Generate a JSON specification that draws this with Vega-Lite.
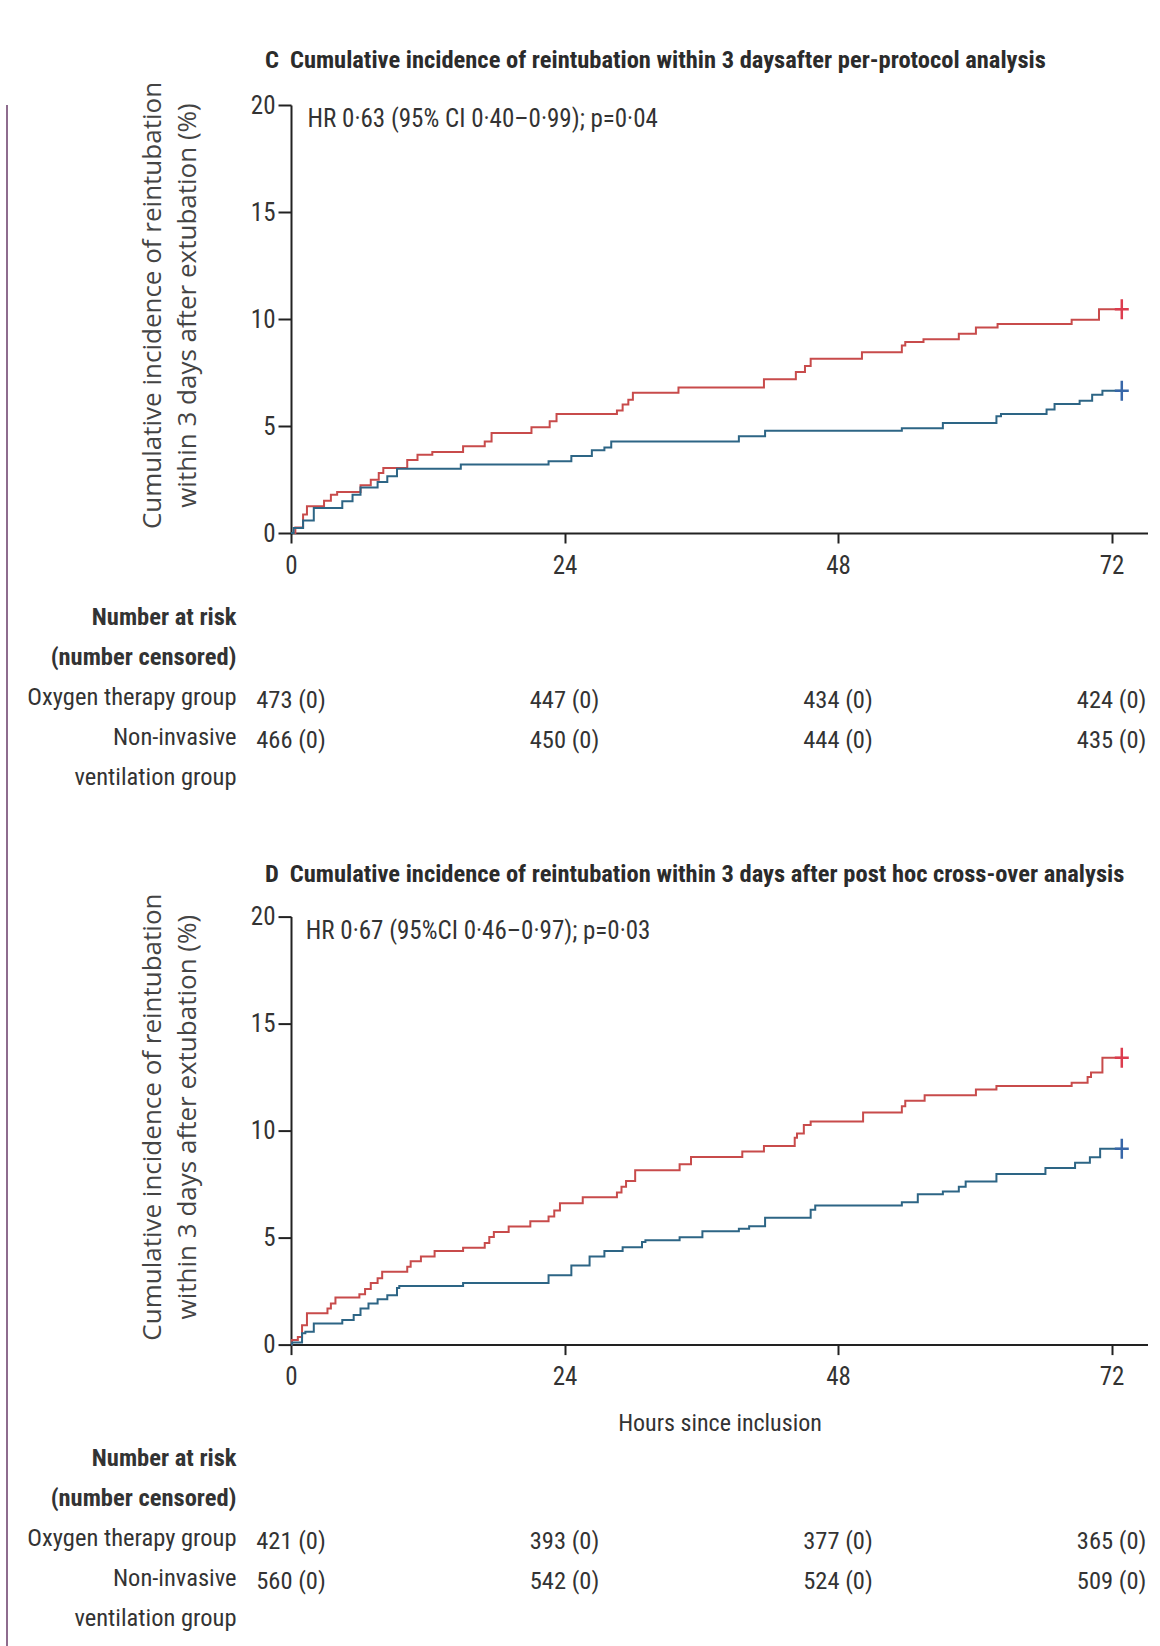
{
  "$schema": "https://vega.github.io/schema/vega-lite/v6.json",
  "padding": {"left": 6, "top": 47, "right": 0, "bottom": 0},
  "background": "white",
  "config": {
    "view": {"stroke": null},
    "font": "Roboto Condensed, DejaVu Sans Condensed, sans-serif"
  },
  "datasets": {
    "curves": [
      {"panel": "C", "group": "Oxygen therapy group", "hours": 0, "pct": 0},
      {"panel": "C", "group": "Oxygen therapy group", "hours": 0.38, "pct": 0.26},
      {"panel": "C", "group": "Oxygen therapy group", "hours": 1.06, "pct": 0.86},
      {"panel": "C", "group": "Oxygen therapy group", "hours": 1.4, "pct": 1.25},
      {"panel": "C", "group": "Oxygen therapy group", "hours": 2.9, "pct": 1.51},
      {"panel": "C", "group": "Oxygen therapy group", "hours": 3.5, "pct": 1.79},
      {"panel": "C", "group": "Oxygen therapy group", "hours": 4.05, "pct": 1.92},
      {"panel": "C", "group": "Oxygen therapy group", "hours": 6.1, "pct": 2.23},
      {"panel": "C", "group": "Oxygen therapy group", "hours": 7.0, "pct": 2.49},
      {"panel": "C", "group": "Oxygen therapy group", "hours": 7.7, "pct": 2.8},
      {"panel": "C", "group": "Oxygen therapy group", "hours": 8.1, "pct": 3.04},
      {"panel": "C", "group": "Oxygen therapy group", "hours": 10.2, "pct": 3.41},
      {"panel": "C", "group": "Oxygen therapy group", "hours": 11.1, "pct": 3.66},
      {"panel": "C", "group": "Oxygen therapy group", "hours": 12.4, "pct": 3.79},
      {"panel": "C", "group": "Oxygen therapy group", "hours": 15.1, "pct": 4.05},
      {"panel": "C", "group": "Oxygen therapy group", "hours": 17.0, "pct": 4.28},
      {"panel": "C", "group": "Oxygen therapy group", "hours": 17.6, "pct": 4.67},
      {"panel": "C", "group": "Oxygen therapy group", "hours": 21.1, "pct": 4.94},
      {"panel": "C", "group": "Oxygen therapy group", "hours": 22.7, "pct": 5.22},
      {"panel": "C", "group": "Oxygen therapy group", "hours": 23.3, "pct": 5.56},
      {"panel": "C", "group": "Oxygen therapy group", "hours": 28.6, "pct": 5.72},
      {"panel": "C", "group": "Oxygen therapy group", "hours": 29.1, "pct": 6.0},
      {"panel": "C", "group": "Oxygen therapy group", "hours": 29.6, "pct": 6.23},
      {"panel": "C", "group": "Oxygen therapy group", "hours": 30.0, "pct": 6.55},
      {"panel": "C", "group": "Oxygen therapy group", "hours": 34.0, "pct": 6.8},
      {"panel": "C", "group": "Oxygen therapy group", "hours": 41.5, "pct": 7.18},
      {"panel": "C", "group": "Oxygen therapy group", "hours": 44.3, "pct": 7.52},
      {"panel": "C", "group": "Oxygen therapy group", "hours": 45.1, "pct": 7.8},
      {"panel": "C", "group": "Oxygen therapy group", "hours": 45.6, "pct": 8.14},
      {"panel": "C", "group": "Oxygen therapy group", "hours": 50.1, "pct": 8.45},
      {"panel": "C", "group": "Oxygen therapy group", "hours": 53.6, "pct": 8.76},
      {"panel": "C", "group": "Oxygen therapy group", "hours": 53.9, "pct": 8.92},
      {"panel": "C", "group": "Oxygen therapy group", "hours": 55.5, "pct": 9.05},
      {"panel": "C", "group": "Oxygen therapy group", "hours": 58.6, "pct": 9.31},
      {"panel": "C", "group": "Oxygen therapy group", "hours": 60.1, "pct": 9.6},
      {"panel": "C", "group": "Oxygen therapy group", "hours": 62.0, "pct": 9.77},
      {"panel": "C", "group": "Oxygen therapy group", "hours": 68.5, "pct": 9.97},
      {"panel": "C", "group": "Oxygen therapy group", "hours": 70.9, "pct": 10.45},
      {"panel": "C", "group": "Oxygen therapy group", "hours": 72.9, "pct": 10.45},
      {"panel": "C", "group": "Non-invasive ventilation group", "hours": 0, "pct": 0},
      {"panel": "C", "group": "Non-invasive ventilation group", "hours": 0.23, "pct": 0.23},
      {"panel": "C", "group": "Non-invasive ventilation group", "hours": 1.06, "pct": 0.58},
      {"panel": "C", "group": "Non-invasive ventilation group", "hours": 2.0, "pct": 1.17},
      {"panel": "C", "group": "Non-invasive ventilation group", "hours": 4.5, "pct": 1.48},
      {"panel": "C", "group": "Non-invasive ventilation group", "hours": 5.4, "pct": 1.79},
      {"panel": "C", "group": "Non-invasive ventilation group", "hours": 6.1, "pct": 2.13},
      {"panel": "C", "group": "Non-invasive ventilation group", "hours": 7.6, "pct": 2.38},
      {"panel": "C", "group": "Non-invasive ventilation group", "hours": 8.45, "pct": 2.65},
      {"panel": "C", "group": "Non-invasive ventilation group", "hours": 9.3, "pct": 3.0},
      {"panel": "C", "group": "Non-invasive ventilation group", "hours": 14.9, "pct": 3.2},
      {"panel": "C", "group": "Non-invasive ventilation group", "hours": 22.6, "pct": 3.35},
      {"panel": "C", "group": "Non-invasive ventilation group", "hours": 24.6, "pct": 3.6},
      {"panel": "C", "group": "Non-invasive ventilation group", "hours": 26.4, "pct": 3.87},
      {"panel": "C", "group": "Non-invasive ventilation group", "hours": 27.5, "pct": 4.0},
      {"panel": "C", "group": "Non-invasive ventilation group", "hours": 28.1, "pct": 4.28},
      {"panel": "C", "group": "Non-invasive ventilation group", "hours": 39.3, "pct": 4.52},
      {"panel": "C", "group": "Non-invasive ventilation group", "hours": 41.6, "pct": 4.78},
      {"panel": "C", "group": "Non-invasive ventilation group", "hours": 53.6, "pct": 4.9},
      {"panel": "C", "group": "Non-invasive ventilation group", "hours": 57.2, "pct": 5.14},
      {"panel": "C", "group": "Non-invasive ventilation group", "hours": 61.9, "pct": 5.45},
      {"panel": "C", "group": "Non-invasive ventilation group", "hours": 62.3, "pct": 5.56},
      {"panel": "C", "group": "Non-invasive ventilation group", "hours": 66.3, "pct": 5.77},
      {"panel": "C", "group": "Non-invasive ventilation group", "hours": 67.0, "pct": 6.03},
      {"panel": "C", "group": "Non-invasive ventilation group", "hours": 69.2, "pct": 6.18},
      {"panel": "C", "group": "Non-invasive ventilation group", "hours": 70.3, "pct": 6.46},
      {"panel": "C", "group": "Non-invasive ventilation group", "hours": 71.2, "pct": 6.65},
      {"panel": "C", "group": "Non-invasive ventilation group", "hours": 72.9, "pct": 6.65},
      {"panel": "D", "group": "Oxygen therapy group", "hours": 0, "pct": 0},
      {"panel": "D", "group": "Oxygen therapy group", "hours": 0.08, "pct": 0.22},
      {"panel": "D", "group": "Oxygen therapy group", "hours": 0.6, "pct": 0.35},
      {"panel": "D", "group": "Oxygen therapy group", "hours": 0.97, "pct": 0.9},
      {"panel": "D", "group": "Oxygen therapy group", "hours": 1.4, "pct": 1.46},
      {"panel": "D", "group": "Oxygen therapy group", "hours": 3.2, "pct": 1.69},
      {"panel": "D", "group": "Oxygen therapy group", "hours": 3.5, "pct": 1.92},
      {"panel": "D", "group": "Oxygen therapy group", "hours": 3.9, "pct": 2.2},
      {"panel": "D", "group": "Oxygen therapy group", "hours": 6.0, "pct": 2.35},
      {"panel": "D", "group": "Oxygen therapy group", "hours": 6.5, "pct": 2.6},
      {"panel": "D", "group": "Oxygen therapy group", "hours": 7.0, "pct": 2.88},
      {"panel": "D", "group": "Oxygen therapy group", "hours": 7.6, "pct": 3.1},
      {"panel": "D", "group": "Oxygen therapy group", "hours": 8.0, "pct": 3.4},
      {"panel": "D", "group": "Oxygen therapy group", "hours": 10.2, "pct": 3.64},
      {"panel": "D", "group": "Oxygen therapy group", "hours": 10.5, "pct": 3.9},
      {"panel": "D", "group": "Oxygen therapy group", "hours": 11.4, "pct": 4.12},
      {"panel": "D", "group": "Oxygen therapy group", "hours": 12.6, "pct": 4.37},
      {"panel": "D", "group": "Oxygen therapy group", "hours": 15.1, "pct": 4.52},
      {"panel": "D", "group": "Oxygen therapy group", "hours": 17.0, "pct": 4.75},
      {"panel": "D", "group": "Oxygen therapy group", "hours": 17.4, "pct": 5.03},
      {"panel": "D", "group": "Oxygen therapy group", "hours": 17.8, "pct": 5.26},
      {"panel": "D", "group": "Oxygen therapy group", "hours": 19.1, "pct": 5.52},
      {"panel": "D", "group": "Oxygen therapy group", "hours": 21.0, "pct": 5.76},
      {"panel": "D", "group": "Oxygen therapy group", "hours": 22.6, "pct": 5.99},
      {"panel": "D", "group": "Oxygen therapy group", "hours": 23.1, "pct": 6.27},
      {"panel": "D", "group": "Oxygen therapy group", "hours": 23.6, "pct": 6.6},
      {"panel": "D", "group": "Oxygen therapy group", "hours": 25.6, "pct": 6.88},
      {"panel": "D", "group": "Oxygen therapy group", "hours": 28.6, "pct": 7.11},
      {"panel": "D", "group": "Oxygen therapy group", "hours": 29.0, "pct": 7.38},
      {"panel": "D", "group": "Oxygen therapy group", "hours": 29.4, "pct": 7.65},
      {"panel": "D", "group": "Oxygen therapy group", "hours": 30.2, "pct": 8.15},
      {"panel": "D", "group": "Oxygen therapy group", "hours": 34.1, "pct": 8.43},
      {"panel": "D", "group": "Oxygen therapy group", "hours": 35.1, "pct": 8.77},
      {"panel": "D", "group": "Oxygen therapy group", "hours": 39.6, "pct": 9.02},
      {"panel": "D", "group": "Oxygen therapy group", "hours": 41.5, "pct": 9.28},
      {"panel": "D", "group": "Oxygen therapy group", "hours": 44.2, "pct": 9.67},
      {"panel": "D", "group": "Oxygen therapy group", "hours": 44.4, "pct": 9.86},
      {"panel": "D", "group": "Oxygen therapy group", "hours": 45.0, "pct": 10.26},
      {"panel": "D", "group": "Oxygen therapy group", "hours": 45.6, "pct": 10.42},
      {"panel": "D", "group": "Oxygen therapy group", "hours": 50.2, "pct": 10.84},
      {"panel": "D", "group": "Oxygen therapy group", "hours": 53.6, "pct": 11.14},
      {"panel": "D", "group": "Oxygen therapy group", "hours": 53.9, "pct": 11.4},
      {"panel": "D", "group": "Oxygen therapy group", "hours": 55.6, "pct": 11.65},
      {"panel": "D", "group": "Oxygen therapy group", "hours": 60.1, "pct": 11.92},
      {"panel": "D", "group": "Oxygen therapy group", "hours": 61.9, "pct": 12.08},
      {"panel": "D", "group": "Oxygen therapy group", "hours": 68.5, "pct": 12.24},
      {"panel": "D", "group": "Oxygen therapy group", "hours": 69.9, "pct": 12.5},
      {"panel": "D", "group": "Oxygen therapy group", "hours": 70.2, "pct": 12.72},
      {"panel": "D", "group": "Oxygen therapy group", "hours": 71.2, "pct": 13.4},
      {"panel": "D", "group": "Oxygen therapy group", "hours": 72.9, "pct": 13.4},
      {"panel": "D", "group": "Non-invasive ventilation group", "hours": 0, "pct": 0},
      {"panel": "D", "group": "Non-invasive ventilation group", "hours": 0.1, "pct": 0.1},
      {"panel": "D", "group": "Non-invasive ventilation group", "hours": 0.97, "pct": 0.53},
      {"panel": "D", "group": "Non-invasive ventilation group", "hours": 1.26, "pct": 0.6},
      {"panel": "D", "group": "Non-invasive ventilation group", "hours": 2.0, "pct": 0.99},
      {"panel": "D", "group": "Non-invasive ventilation group", "hours": 4.5, "pct": 1.15},
      {"panel": "D", "group": "Non-invasive ventilation group", "hours": 5.5, "pct": 1.38},
      {"panel": "D", "group": "Non-invasive ventilation group", "hours": 6.1, "pct": 1.69},
      {"panel": "D", "group": "Non-invasive ventilation group", "hours": 6.8, "pct": 1.92},
      {"panel": "D", "group": "Non-invasive ventilation group", "hours": 7.6, "pct": 2.12},
      {"panel": "D", "group": "Non-invasive ventilation group", "hours": 8.45, "pct": 2.31},
      {"panel": "D", "group": "Non-invasive ventilation group", "hours": 9.3, "pct": 2.65},
      {"panel": "D", "group": "Non-invasive ventilation group", "hours": 9.5, "pct": 2.74},
      {"panel": "D", "group": "Non-invasive ventilation group", "hours": 15.1, "pct": 2.88},
      {"panel": "D", "group": "Non-invasive ventilation group", "hours": 22.6, "pct": 3.24},
      {"panel": "D", "group": "Non-invasive ventilation group", "hours": 24.6, "pct": 3.7},
      {"panel": "D", "group": "Non-invasive ventilation group", "hours": 26.2, "pct": 4.12},
      {"panel": "D", "group": "Non-invasive ventilation group", "hours": 27.5, "pct": 4.37},
      {"panel": "D", "group": "Non-invasive ventilation group", "hours": 29.1, "pct": 4.55},
      {"panel": "D", "group": "Non-invasive ventilation group", "hours": 30.8, "pct": 4.79},
      {"panel": "D", "group": "Non-invasive ventilation group", "hours": 31.1, "pct": 4.88},
      {"panel": "D", "group": "Non-invasive ventilation group", "hours": 34.1, "pct": 5.02},
      {"panel": "D", "group": "Non-invasive ventilation group", "hours": 36.1, "pct": 5.3},
      {"panel": "D", "group": "Non-invasive ventilation group", "hours": 39.3, "pct": 5.41},
      {"panel": "D", "group": "Non-invasive ventilation group", "hours": 40.2, "pct": 5.53},
      {"panel": "D", "group": "Non-invasive ventilation group", "hours": 41.6, "pct": 5.93},
      {"panel": "D", "group": "Non-invasive ventilation group", "hours": 45.6, "pct": 6.3},
      {"panel": "D", "group": "Non-invasive ventilation group", "hours": 46.0, "pct": 6.5},
      {"panel": "D", "group": "Non-invasive ventilation group", "hours": 53.6, "pct": 6.65},
      {"panel": "D", "group": "Non-invasive ventilation group", "hours": 55.0, "pct": 7.03},
      {"panel": "D", "group": "Non-invasive ventilation group", "hours": 57.2, "pct": 7.16},
      {"panel": "D", "group": "Non-invasive ventilation group", "hours": 58.6, "pct": 7.38},
      {"panel": "D", "group": "Non-invasive ventilation group", "hours": 59.2, "pct": 7.62},
      {"panel": "D", "group": "Non-invasive ventilation group", "hours": 61.9, "pct": 7.97},
      {"panel": "D", "group": "Non-invasive ventilation group", "hours": 66.2, "pct": 8.25},
      {"panel": "D", "group": "Non-invasive ventilation group", "hours": 68.8, "pct": 8.5},
      {"panel": "D", "group": "Non-invasive ventilation group", "hours": 70.1, "pct": 8.75},
      {"panel": "D", "group": "Non-invasive ventilation group", "hours": 71.0, "pct": 9.15},
      {"panel": "D", "group": "Non-invasive ventilation group", "hours": 72.9, "pct": 9.15}
    ],
    "ends": [
      {"panel": "C", "group": "Oxygen therapy group", "hours": 72.9, "pct": 10.45},
      {"panel": "C", "group": "Non-invasive ventilation group", "hours": 72.9, "pct": 6.65},
      {"panel": "D", "group": "Oxygen therapy group", "hours": 72.9, "pct": 13.4},
      {"panel": "D", "group": "Non-invasive ventilation group", "hours": 72.9, "pct": 9.15}
    ],
    "hr": [
      {"panel": "C", "hours": 1.45, "pct": 19.35, "text": "HR 0·63 (95% CI 0·40–0·99); p=0·04"},
      {"panel": "D", "hours": 1.3, "pct": 19.35, "text": "HR 0·67 (95%CI 0·46–0·97); p=0·03"}
    ],
    "risk": [
      {"panel": "C", "row": "Oxygen therapy group", "hours": 0, "atRisk": 473, "censored": 0, "label": "473 (0)"},
      {"panel": "C", "row": "Oxygen therapy group", "hours": 24, "atRisk": 447, "censored": 0, "label": "447 (0)"},
      {"panel": "C", "row": "Oxygen therapy group", "hours": 48, "atRisk": 434, "censored": 0, "label": "434 (0)"},
      {"panel": "C", "row": "Oxygen therapy group", "hours": 72, "atRisk": 424, "censored": 0, "label": "424 (0)"},
      {"panel": "C", "row": "Non-invasive", "hours": 0, "atRisk": 466, "censored": 0, "label": "466 (0)"},
      {"panel": "C", "row": "Non-invasive", "hours": 24, "atRisk": 450, "censored": 0, "label": "450 (0)"},
      {"panel": "C", "row": "Non-invasive", "hours": 48, "atRisk": 444, "censored": 0, "label": "444 (0)"},
      {"panel": "C", "row": "Non-invasive", "hours": 72, "atRisk": 435, "censored": 0, "label": "435 (0)"},
      {"panel": "D", "row": "Oxygen therapy group", "hours": 0, "atRisk": 421, "censored": 0, "label": "421 (0)"},
      {"panel": "D", "row": "Oxygen therapy group", "hours": 24, "atRisk": 393, "censored": 0, "label": "393 (0)"},
      {"panel": "D", "row": "Oxygen therapy group", "hours": 48, "atRisk": 377, "censored": 0, "label": "377 (0)"},
      {"panel": "D", "row": "Oxygen therapy group", "hours": 72, "atRisk": 365, "censored": 0, "label": "365 (0)"},
      {"panel": "D", "row": "Non-invasive", "hours": 0, "atRisk": 560, "censored": 0, "label": "560 (0)"},
      {"panel": "D", "row": "Non-invasive", "hours": 24, "atRisk": 542, "censored": 0, "label": "542 (0)"},
      {"panel": "D", "row": "Non-invasive", "hours": 48, "atRisk": 524, "censored": 0, "label": "524 (0)"},
      {"panel": "D", "row": "Non-invasive", "hours": 72, "atRisk": 509, "censored": 0, "label": "509 (0)"}
    ]
  },
  "spacing": 18,
  "hconcat": [
    {
      "width": 2,
      "height": 1542,
      "view": {"fill": "#8e6c8e", "stroke": null},
      "data": {"values": [{"a": 1}]},
      "mark": {"type": "text", "text": ""},
      "encoding": {}
    },
    {
      "bounds": "flush",
      "spacing": 61.3,
      "vconcat": [
        {
          "width": 857,
          "height": 428,
          "title": {"text": "C\u2002Cumulative incidence of reintubation within 3 daysafter per-protocol analysis", "anchor": "start", "frame": "group", "dx": -26, "offset": 8, "fontSize": 24.5, "fontWeight": "bold", "font": "Roboto Condensed, DejaVu Sans Condensed, sans-serif", "color": "#2b2b2b", "limit": 1000},
          "resolve": {"scale": {"color": "independent"}},
          "layer": [
            {
              "data": {"name": "curves"},
              "transform": [{"filter": "datum.panel === 'C'"}],
              "mark": {"type": "line", "interpolate": "step-after", "strokeWidth": 2},
              "encoding": {
                "x": {"field": "hours", "type": "quantitative", "scale": {"domain": [0, 75.2], "nice": false, "zero": false},
                  "axis": {"values": [0, 24, 48, 72], "title": null, "grid": false, "domainColor": "#222", "domainWidth": 2, "tickColor": "#222", "tickWidth": 2, "tickSize": 10, "labelFont": "Roboto Condensed, DejaVu Sans Condensed, sans-serif", "labelFontSize": 25, "labelColor": "#333", "labelPadding": 10, "labelFlush": false, "labelOverlap": false}},
                "y": {"field": "pct", "type": "quantitative", "scale": {"domain": [0, 20], "nice": false, "zero": false},
                  "axis": {"values": [0, 5, 10, 15, 20], "title": ["Cumulative incidence of reintubation", "within 3 days after extubation (%)"], "titleFont": "Open Sans", "titleFontSize": 26, "titleFontWeight": "normal", "titleColor": "#444", "titleLineHeight": 34.5, "titlePadding": 50, "titleY": 200, "titleLimit": 600, "grid": false, "domainColor": "#222", "domainWidth": 2, "tickColor": "#222", "tickWidth": 2, "tickSize": 13, "labelFont": "Roboto Condensed, DejaVu Sans Condensed, sans-serif", "labelFontSize": 25, "labelColor": "#333", "labelPadding": 3, "labelFlush": false, "labelOverlap": false}},
                "color": {"field": "group", "type": "nominal", "scale": {"domain": ["Oxygen therapy group", "Non-invasive ventilation group"], "range": ["#c84b4b", "#2d6585"]}, "legend": null}
              }
            },
            {
              "data": {"name": "ends"},
              "transform": [{"filter": "datum.panel === 'C'"}],
              "mark": {"type": "point", "shape": "M-0.7,0H0.7M0,-1V1", "filled": false, "size": 400, "strokeWidth": 2.5, "opacity": 1},
              "encoding": {
                "x": {"field": "hours", "type": "quantitative"},
                "y": {"field": "pct", "type": "quantitative"},
                "color": {"field": "group", "type": "nominal", "scale": {"domain": ["Oxygen therapy group", "Non-invasive ventilation group"], "range": ["#dc3c4e", "#3766a8"]}, "legend": null}
              }
            },
            {
              "data": {"name": "hr"},
              "transform": [{"filter": "datum.panel === 'C'"}],
              "mark": {"type": "text", "align": "left", "baseline": "middle", "fontSize": 25, "font": "Roboto Condensed, DejaVu Sans Condensed, sans-serif", "color": "#333"},
              "encoding": {
                "x": {"field": "hours", "type": "quantitative"},
                "y": {"field": "pct", "type": "quantitative"},
                "text": {"field": "text"}
              }
            }
          ]
        },
        {
          "width": 857,
          "height": 260.7,
          "data": {"name": "risk"},
          "transform": [{"filter": "datum.panel === 'C'"}],
          "mark": {"type": "text", "fontSize": 24.5, "font": "Roboto Condensed, DejaVu Sans Condensed, sans-serif", "color": "#333", "dy": 3},
          "encoding": {
            "x": {"field": "hours", "type": "quantitative", "scale": {"domain": [0, 75.2], "nice": false, "zero": false}, "axis": null},
            "y": {"field": "row", "type": "nominal",
              "scale": {"type": "band", "domain": ["Number at risk", "(number censored)", "Oxygen therapy group", "Non-invasive", "ventilation group"], "paddingInner": 0, "paddingOuter": 0.75875, "align": 0.06, "round": false},
              "axis": {"title": null, "domain": false, "ticks": false, "tickSize": 0, "labelPadding": 55, "labelLimit": 500, "labelFont": "Roboto Condensed, DejaVu Sans Condensed, sans-serif", "labelFontSize": 24.5, "labelColor": "#333", "labelFontWeight": {"condition": {"test": "datum.value === 'Number at risk' || datum.value === '(number censored)'", "value": "bold"}, "value": "normal"}}},
            "text": {"field": "label"}
          }
        },
        {
          "width": 857,
          "height": 428,
          "title": {"text": "D\u2002Cumulative incidence of reintubation within 3 days after post hoc cross-over analysis", "anchor": "start", "frame": "group", "dx": -26, "offset": 6, "fontSize": 24.5, "fontWeight": "bold", "font": "Roboto Condensed, DejaVu Sans Condensed, sans-serif", "color": "#2b2b2b", "limit": 1000},
          "resolve": {"scale": {"color": "independent"}},
          "layer": [
            {
              "data": {"name": "curves"},
              "transform": [{"filter": "datum.panel === 'D'"}],
              "mark": {"type": "line", "interpolate": "step-after", "strokeWidth": 2},
              "encoding": {
                "x": {"field": "hours", "type": "quantitative", "scale": {"domain": [0, 75.2], "nice": false, "zero": false},
                  "axis": {"values": [0, 24, 48, 72], "title": "Hours since inclusion", "titleFont": "Roboto Condensed, DejaVu Sans Condensed, sans-serif", "titleFontSize": 24, "titleFontWeight": "normal", "titleColor": "#333", "titlePadding": 22, "grid": false, "domainColor": "#222", "domainWidth": 2, "tickColor": "#222", "tickWidth": 2, "tickSize": 10, "labelFont": "Roboto Condensed, DejaVu Sans Condensed, sans-serif", "labelFontSize": 25, "labelColor": "#333", "labelPadding": 10, "labelFlush": false, "labelOverlap": false}},
                "y": {"field": "pct", "type": "quantitative", "scale": {"domain": [0, 20], "nice": false, "zero": false},
                  "axis": {"values": [0, 5, 10, 15, 20], "title": ["Cumulative incidence of reintubation", "within 3 days after extubation (%)"], "titleFont": "Open Sans", "titleFontSize": 26, "titleFontWeight": "normal", "titleColor": "#444", "titleLineHeight": 34.5, "titlePadding": 50, "titleY": 200, "titleLimit": 600, "grid": false, "domainColor": "#222", "domainWidth": 2, "tickColor": "#222", "tickWidth": 2, "tickSize": 13, "labelFont": "Roboto Condensed, DejaVu Sans Condensed, sans-serif", "labelFontSize": 25, "labelColor": "#333", "labelPadding": 3, "labelFlush": false, "labelOverlap": false}},
                "color": {"field": "group", "type": "nominal", "scale": {"domain": ["Oxygen therapy group", "Non-invasive ventilation group"], "range": ["#c84b4b", "#2d6585"]}, "legend": null}
              }
            },
            {
              "data": {"name": "ends"},
              "transform": [{"filter": "datum.panel === 'D'"}],
              "mark": {"type": "point", "shape": "M-0.7,0H0.7M0,-1V1", "filled": false, "size": 400, "strokeWidth": 2.5, "opacity": 1},
              "encoding": {
                "x": {"field": "hours", "type": "quantitative"},
                "y": {"field": "pct", "type": "quantitative"},
                "color": {"field": "group", "type": "nominal", "scale": {"domain": ["Oxygen therapy group", "Non-invasive ventilation group"], "range": ["#dc3c4e", "#3766a8"]}, "legend": null}
              }
            },
            {
              "data": {"name": "hr"},
              "transform": [{"filter": "datum.panel === 'D'"}],
              "mark": {"type": "text", "align": "left", "baseline": "middle", "fontSize": 25, "font": "Roboto Condensed, DejaVu Sans Condensed, sans-serif", "color": "#333"},
              "encoding": {
                "x": {"field": "hours", "type": "quantitative"},
                "y": {"field": "pct", "type": "quantitative"},
                "text": {"field": "text"}
              }
            }
          ]
        },
        {
          "width": 857,
          "height": 233.4,
          "data": {"name": "risk"},
          "transform": [{"filter": "datum.panel === 'D'"}],
          "mark": {"type": "text", "fontSize": 24.5, "font": "Roboto Condensed, DejaVu Sans Condensed, sans-serif", "color": "#333", "dy": 3},
          "encoding": {
            "x": {"field": "hours", "type": "quantitative", "scale": {"domain": [0, 75.2], "nice": false, "zero": false}, "axis": null},
            "y": {"field": "row", "type": "nominal",
              "scale": {"type": "band", "domain": ["Number at risk", "(number censored)", "Oxygen therapy group", "Non-invasive", "ventilation group"], "paddingInner": 0, "paddingOuter": 0.4175, "align": 1, "round": false},
              "axis": {"title": null, "domain": false, "ticks": false, "tickSize": 0, "labelPadding": 55, "labelLimit": 500, "labelFont": "Roboto Condensed, DejaVu Sans Condensed, sans-serif", "labelFontSize": 24.5, "labelColor": "#333", "labelFontWeight": {"condition": {"test": "datum.value === 'Number at risk' || datum.value === '(number censored)'", "value": "bold"}, "value": "normal"}}},
            "text": {"field": "label"}
          }
        }
      ]
    }
  ]
}
